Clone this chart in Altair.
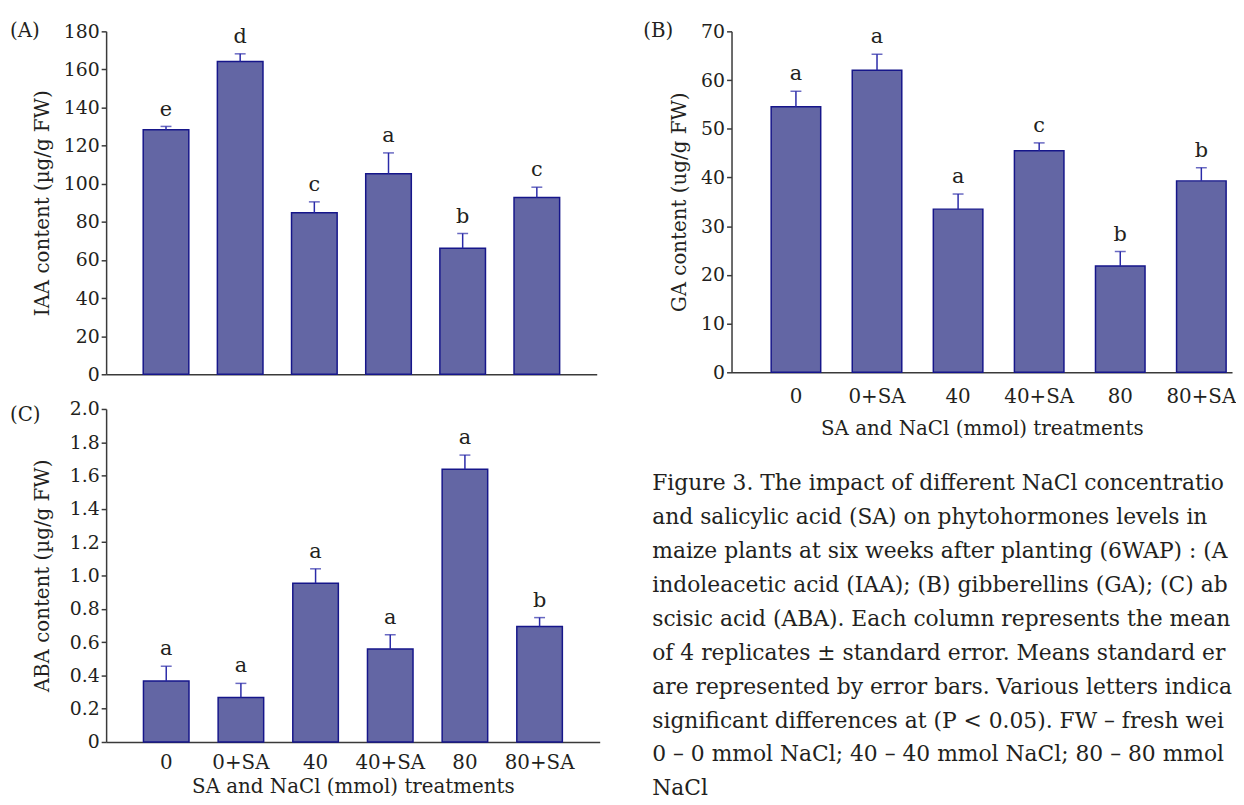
import altair as alt
import pandas as pd

categories = ["0", "0+SA", "40", "40+SA", "80", "80+SA"]

iaa_mean = [128.3, 164.2, 84.8, 105.3, 66.1, 92.8]
iaa_err = [1.8, 4.0, 5.7, 10.9, 7.8, 5.4]
iaa_letters = ["e", "d", "c", "a", "b", "c"]

ga_mean = [54.5, 62.0, 33.5, 45.5, 21.8, 39.3]
ga_err = [3.2, 3.3, 3.1, 1.6, 3.0, 2.7]
ga_letters = ["a", "a", "a", "c", "b", "b"]

aba_mean = [0.366, 0.267, 0.954, 0.558, 1.638, 0.693]
aba_err = [0.089, 0.085, 0.086, 0.086, 0.085, 0.054]
aba_letters = ["a", "a", "a", "a", "a", "b"]

iaa_ticks = [0, 20, 40, 60, 80, 100, 120, 140, 160, 180]
ga_ticks = [0, 10, 20, 30, 40, 50, 60, 70]
aba_ticks = [0, 0.2, 0.4, 0.6, 0.8, 1.0, 1.2, 1.4, 1.6, 1.8, 2.0]

x_title = "SA and NaCl (mmol) treatments"

caption_lines = [
    "Figure 3. The impact of different NaCl concentrations",
    "and salicylic acid (SA) on phytohormones levels in",
    "maize plants at six weeks after planting (6WAP) : (A)",
    "indoleacetic acid (IAA); (B) gibberellins (GA); (C) ab-",
    "scisic acid (ABA). Each column represents the mean",
    "of 4 replicates \u00b1 standard error. Means standard errors",
    "are represented by error bars. Various letters indicate",
    "significant differences at (P < 0.05). FW \u2013 fresh weight;",
    "0 \u2013 0 mmol NaCl; 40 \u2013 40 mmol NaCl; 80 \u2013 80 mmol",
    "NaCl",
]

FONT = "DejaVu Serif"
TXT = "#231f20"
FILL = "#6366a4"
STROKE = "#16168a"
ERR = "#2a2aa8"
AXC = "#3a3a3a"


def panel(mean, err, letters, ticks, ytitle, tag, width, height,
          pin, pout, align, show_x, lab_pad, title_pad, title_x,
          label_expr=None, tag_x=-97, tag_y=0, extra=None):
    df = pd.DataFrame({
        "cat": categories,
        "value": mean,
        "upper": [m + e for m, e in zip(mean, err)],
        "letter": letters,
    })
    base = alt.Chart(df)
    if show_x:
        xaxis = alt.Axis(title=x_title, labelAngle=0, ticks=False, tickSize=0,
                         labelPadding=lab_pad, titlePadding=title_pad,
                         labelFont=FONT, labelFontSize=20, labelColor=TXT,
                         titleFont=FONT, titleFontSize=20, titleColor=TXT,
                         titleFontWeight="normal",
                         domainColor=AXC, domainWidth=1.5)
    else:
        xaxis = alt.Axis(title=None, labels=False, ticks=False,
                         domainColor=AXC, domainWidth=1.5)
    xscale = alt.Scale(paddingInner=pin, paddingOuter=pout, align=align, round=False)
    X = alt.X("cat:N", sort=categories, scale=xscale, axis=xaxis)
    yaxis_kw = dict(values=ticks, title=ytitle, tickSize=5, tickWidth=1.5,
                    tickColor=AXC, domainColor=AXC, domainWidth=1.5,
                    labelFont=FONT, labelFontSize=19, labelColor=TXT, labelPadding=2,
                    titleFont=FONT, titleFontSize=20, titleColor=TXT,
                    titleFontWeight="normal", titleX=title_x, titleY=height / 2,
                    grid=False)
    if label_expr:
        yaxis_kw["labelExpr"] = label_expr
    yscale = alt.Scale(domain=[0, ticks[-1]], nice=False)

    def Y(field):
        return alt.Y(field, scale=yscale, axis=alt.Axis(**yaxis_kw))

    bars = base.mark_bar(fill=FILL, stroke=STROKE, strokeWidth=1.5).encode(
        x=X, y=Y("value:Q"))
    rule = base.mark_rule(color=ERR, strokeWidth=1.5).encode(
        x=X, y=Y("value:Q"), y2="upper:Q")
    cap = base.mark_tick(color=ERR, thickness=1.5, size=11).encode(
        x=X, y=Y("upper:Q"))
    lett = base.mark_text(font=FONT, fontSize=21, baseline="alphabetic", dy=-11,
                          color=TXT).encode(
        x=X, y=Y("upper:Q"), text="letter:N")
    tagc = alt.Chart(pd.DataFrame({"t": [tag]})).mark_text(
        font=FONT, fontSize=20, align="left", baseline="middle", color=TXT).encode(
        x=alt.value(tag_x), y=alt.value(tag_y), text="t:N")
    layers = [bars, rule, cap, lett, tagc]
    if extra is not None:
        layers.append(extra)
    return alt.layer(*layers).properties(width=width, height=height)


caption = alt.Chart(pd.DataFrame({"k": [0]})).mark_text(
    font=FONT, fontSize=22, align="left", baseline="alphabetic",
    lineHeight=34.2, limit=588, ellipsis="\u200b", color=TXT).encode(
    x=alt.value(-80), y=alt.value(463), text=alt.value(caption_lines))

A = panel(iaa_mean, iaa_err, iaa_letters, iaa_ticks, "IAA content (\u00b5g/g FW)", "(A)",
          495, 346, 0.385, 0.5, 0.5, False, 0, 0, -54)
C = panel(aba_mean, aba_err, aba_letters, aba_ticks, "ABA content (\u00b5g/g FW)", "(C)",
          498, 336, 0.39, 0.5, 0.5, True, 11, 4, -54,
          label_expr="datum.value == 0 ? '0' : format(datum.value, '.1f')", tag_y=6)
B = panel(ga_mean, ga_err, ga_letters, ga_ticks, "GA content (ug/g FW)", "(B)",
          505, 344, 0.389, 0.281, 0.87, True, 14, 13, -42, tag_x=-89, extra=caption)

chart = alt.concat(
    A, B, C, columns=2, spacing={"row": 35, "column": 133}, bounds="flush",
).properties(
    padding={"left": 2, "top": 10, "right": 0, "bottom": 0}
).configure_view(stroke=None)

chart.save("out.html", embed_options={"renderer": "svg", "actions": False})
